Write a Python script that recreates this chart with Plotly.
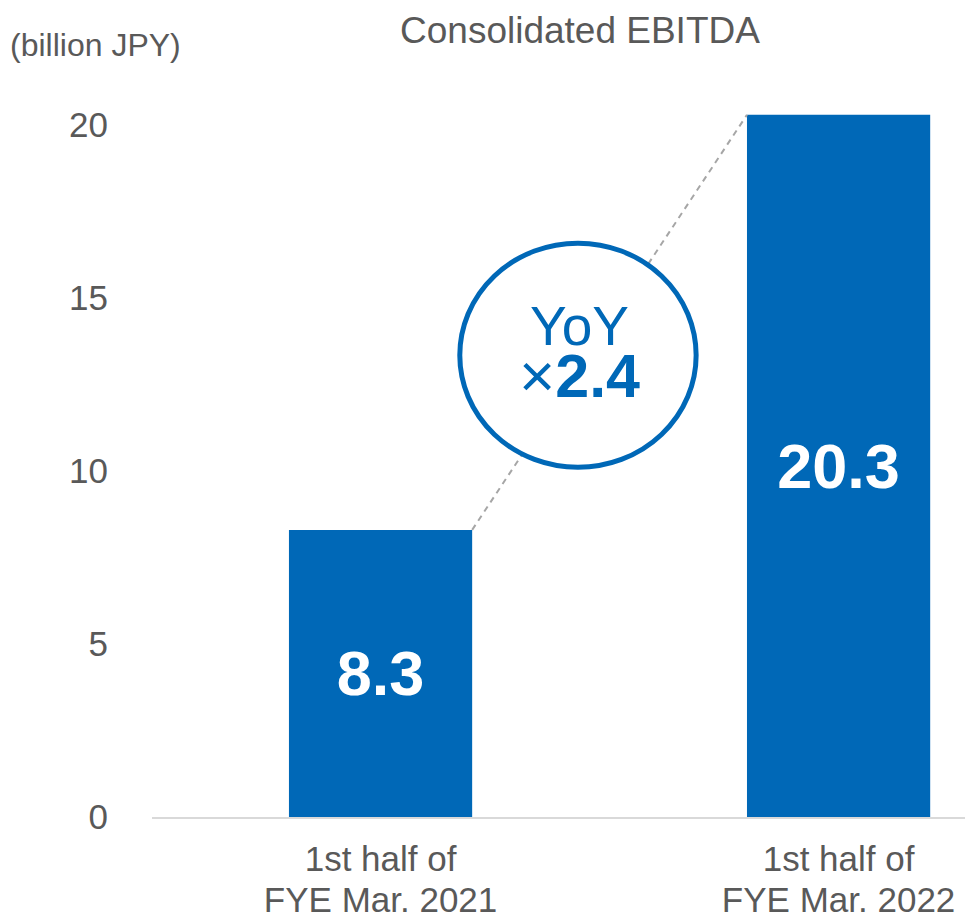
import plotly.graph_objects as go

categories = ["1st half of<br>FYE Mar. 2021", "1st half of<br>FYE Mar. 2022"]
ebitda = [8.3, 20.3]
y_ticks = [0, 5, 10, 15, 20]
yoy_multiple = "2.4"

BLUE = "#0068B7"
GRAY = "#595959"
FONT = "Liberation Sans, Arial, sans-serif"

fig = go.Figure()
fig.add_trace(go.Bar(
    x=categories, y=ebitda, width=0.4,
    marker=dict(color=BLUE, line=dict(width=0)),
    text=[f"{v:.1f}" for v in ebitda], textposition="inside",
    insidetextanchor="middle",
    textfont=dict(color="white", size=63, family=FONT, weight="bold"),
    hoverinfo="skip",
))

# dashed connector between bar tops
fig.add_shape(type="line", xref="x", yref="y",
              x0=0.2, y0=ebitda[0], x1=0.8, y1=ebitda[1],
              line=dict(color="#A6A6A6", width=2, dash="6px,5px"), layer="above")
# YoY circle
fig.add_shape(type="circle", xref="x", yref="y",
              x0=0.173, x1=0.689, y0=10.11, y1=16.59,
              line=dict(color=BLUE, width=5), fillcolor="white", layer="above")

fig.add_annotation(
    x=0.435, y=13.42, xref="x", yref="y", showarrow=False,
    text=('<span style="font-size:55px">YoY</span><br>'
          '<span style="font-size:62px">×</span>'
          '<span style="font-size:61px"><b>' + yoy_multiple + '</b></span>'),
    font=dict(color=BLUE, size=40, family=FONT))

fig.add_annotation(x=-0.1772, y=1.0145, xref="paper", yref="paper", xanchor="left",
                   yanchor="middle", text="(billion JPY)", showarrow=False,
                   font=dict(color=GRAY, size=32, family=FONT))
fig.add_annotation(x=0.526, y=1.034, xref="paper", yref="paper", xanchor="center",
                   yanchor="middle", text="Consolidated EBITDA", showarrow=False,
                   font=dict(color=GRAY, size=37, family=FONT))

tick_text = ['<span style="font-size:35px">' + c.replace("<br>", '</span><br><span style="font-size:35px">') + "</span>"
             for c in categories]

fig.update_layout(
    width=965, height=917,
    margin=dict(l=152, r=0, t=56, b=100, autoexpand=False),
    plot_bgcolor="white", paper_bgcolor="white",
    showlegend=False,
    xaxis=dict(type="category", range=[-0.499, 1.276], showgrid=False,
               showline=True, linecolor="#D9D9D9", linewidth=2, ticks="",
               tickmode="array", tickvals=categories, ticktext=tick_text,
               tickfont=dict(color=GRAY, size=31, family=FONT),
               ticklabelstandoff=15, automargin=False, fixedrange=True),
    yaxis=dict(range=[0, 22], tickvals=y_ticks, showgrid=False, zeroline=False,
               showline=False, ticks="",
               tickfont=dict(color=GRAY, size=35, family=FONT),
               ticklabelstandoff=43, automargin=False, fixedrange=True),
)

fig.write_html("out.html", config={"displayModeBar": False},
               post_script="document.body.style.margin='0';")
